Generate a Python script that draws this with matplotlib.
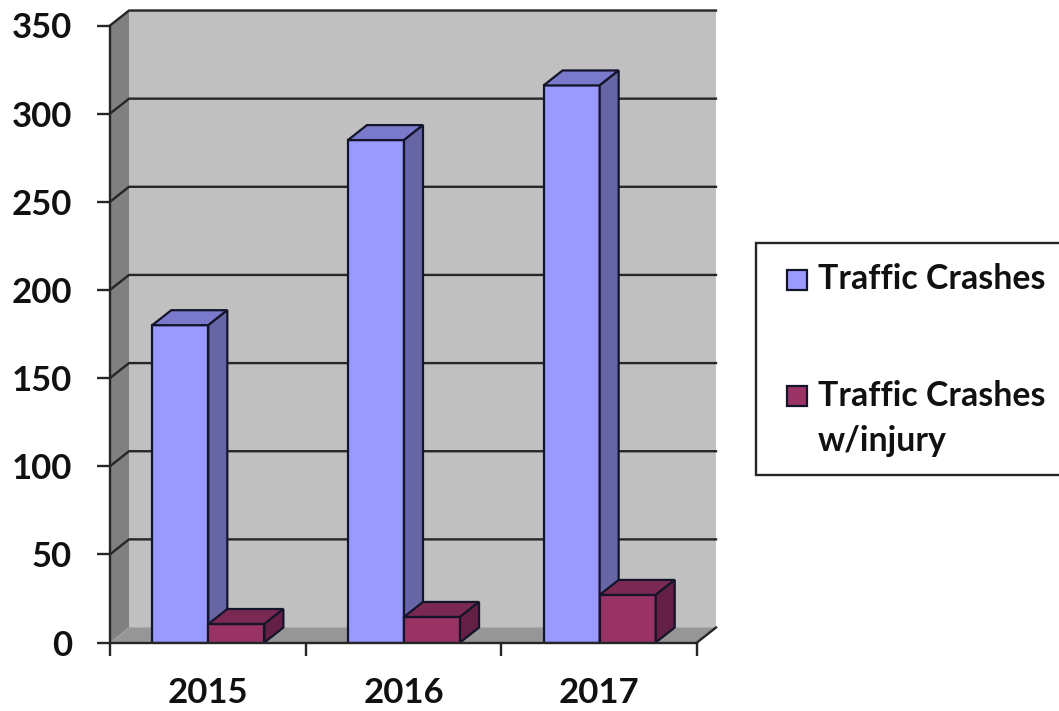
import numpy as np
import matplotlib
matplotlib.use('Agg')
import matplotlib.pyplot as plt
from matplotlib.patches import Polygon, Rectangle

plt.rcParams['font.family'] = ['Lato', 'DejaVu Sans']

years = ['2015', '2016', '2017']
crashes = [180, 285, 316]
injury = [10.5, 14.5, 27]
yticks = [0, 50, 100, 150, 200, 250, 300, 350]

W, H = 1059, 711
dx = 19 / 195.67   # depth of the fake 3d, data units
dy = 8.5
bar_w = 0.2865
edge = '#14142a'
line = '#262626'


def face(pts, color, z):
    ax.add_patch(Polygon(pts, closed=True, facecolor=color, edgecolor='none', zorder=z, clip_on=False))


def box3d(x, h, front, top, side, z):
    ax.bar(x, h, bar_w, align='edge', color=front, edgecolor=edge, linewidth=1.6, zorder=z)
    ax.add_patch(Polygon([(x, h), (x + bar_w, h), (x + bar_w + dx, h + dy), (x + dx, h + dy)],
                         facecolor=top, edgecolor=edge, linewidth=1.6, zorder=z, clip_on=False))
    ax.add_patch(Polygon([(x + bar_w, 0), (x + bar_w + dx, dy), (x + bar_w + dx, h + dy), (x + bar_w, h)],
                         facecolor=side, edgecolor=edge, linewidth=1.6, zorder=z, clip_on=False))


fig = plt.figure(figsize=(W / 100, H / 100), dpi=100)
ax = fig.add_axes([110 / W, 1 - 642.5 / H, 587 / W, 617 / H])
ax.set_xlim(0, 3)
ax.set_ylim(0, 350)
ax.patch.set_visible(False)

# walls and floor
face([(dx, dy), (3 + dx, dy), (3 + dx, 350 + dy), (dx, 350 + dy)], '#c0c0c0', 1)
face([(0, 0), (dx, dy), (dx, 350 + dy), (0, 350)], '#808080', 1)
face([(0, 0), (3, 0), (3 + dx, dy), (dx, dy)], '#969696', 1)

# gridlines run along the back wall and slant down the side wall
for t in yticks[1:]:
    ax.plot([0, dx, 3 + dx], [t, t + dy, t + dy], color=line, lw=1.7, zorder=2, clip_on=False)
ax.plot([3, 3 + dx], [0, dy], color=line, lw=1.7, zorder=2, clip_on=False)

for i in range(len(years)):
    x0 = i + 0.216
    box3d(x0, crashes[i], '#9999ff', '#7a7acc', '#6666a6', 3)
    box3d(x0 + bar_w, injury[i], '#993366', '#7a2952', '#641f45', 4)

for s in ['top', 'right']:
    ax.spines[s].set_visible(False)
for s in ['left', 'bottom']:
    ax.spines[s].set_color(line)
    ax.spines[s].set_linewidth(1.7)
    ax.spines[s].set_zorder(6)

ax.set_yticks(yticks)
ax.set_xticks([0, 1, 2, 3])
ax.set_xticklabels([])
ax.set_xticks(np.arange(len(years)) + 0.5, labels=years, minor=True)
ax.tick_params(axis='y', length=9.5, width=1.7, color=line, pad=18, labelsize=25)
ax.tick_params(axis='x', which='major', length=9.5, width=1.7, color=line)
ax.tick_params(axis='x', which='minor', length=0, pad=25, labelsize=25)
for lab in ax.get_yticklabels() + ax.get_xticklabels(minor=True):
    lab.set_fontweight('bold')
    lab.set_color('#111111')

# legend box runs off the right edge in the original
fig.add_artist(Rectangle((755.5 / W, 1 - 475 / H), 320 / W, 232 / H, transform=fig.transFigure,
                         facecolor='white', edgecolor=line, linewidth=1.7))
fig.add_artist(Rectangle((787 / W, 1 - 290 / H), 20 / W, 20 / H, transform=fig.transFigure,
                         facecolor='#9999ff', edgecolor=edge, linewidth=1.6))
fig.add_artist(Rectangle((787 / W, 1 - 406 / H), 20 / W, 20 / H, transform=fig.transFigure,
                         facecolor='#993366', edgecolor=edge, linewidth=1.6))
legend_font = dict(fontsize=24.4, fontweight='bold', va='center', color='#111111')
fig.text(818 / W, 1 - 279 / H, 'Traffic Crashes', **legend_font)
fig.text(818 / W, 1 - 396 / H, 'Traffic Crashes', **legend_font)
fig.text(818 / W, 1 - 441 / H, 'w/injury', **legend_font)

fig.savefig('out.png', dpi=100)
